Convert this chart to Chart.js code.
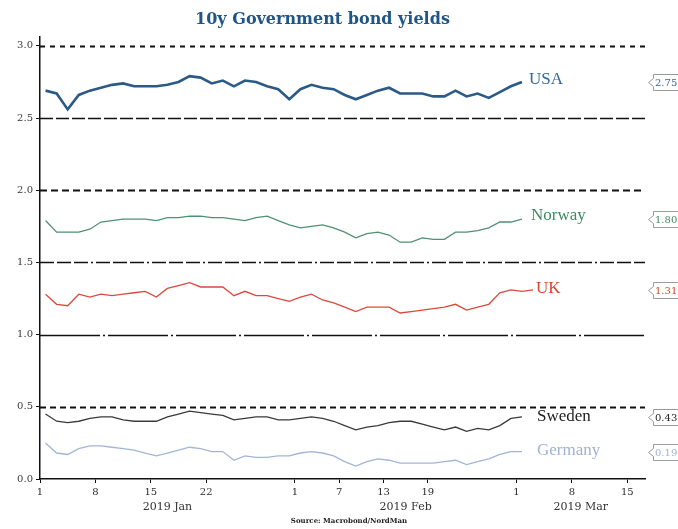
<!DOCTYPE html>
<html lang="en">
<head>
<meta charset="UTF-8">
<title>10y Government bond yields</title>
<script src="https://cdn.jsdelivr.net/npm/chart.js@4"></script>
<style>
    html, body { margin: 0; padding: 0; background: #fff; }
    #wrap { width: 678px; height: 529px; }
</style>
</head>
<body>
<div id="wrap"><canvas id="yieldChart" width="678" height="529"></canvas></div>
<script>
// one value per business day, index 0 = 1 Jan 2019, last = 1 Mar (UK runs to 4 Mar)
const usa = [2.69, 2.67, 2.56, 2.66, 2.69, 2.71, 2.73, 2.74, 2.72, 2.72,
             2.72, 2.73, 2.75, 2.79, 2.78, 2.74, 2.76, 2.72, 2.76, 2.75,
             2.72, 2.70, 2.63, 2.70, 2.73, 2.71, 2.70, 2.66, 2.63, 2.66,
             2.69, 2.71, 2.67, 2.67, 2.67, 2.65, 2.65, 2.69, 2.65, 2.67,
             2.64, 2.68, 2.72, 2.75];
const norway = [1.79, 1.71, 1.71, 1.71, 1.73, 1.78, 1.79, 1.80, 1.80, 1.80,
                1.79, 1.81, 1.81, 1.82, 1.82, 1.81, 1.81, 1.80, 1.79, 1.81,
                1.82, 1.79, 1.76, 1.74, 1.75, 1.76, 1.74, 1.71, 1.67, 1.70,
                1.71, 1.69, 1.64, 1.64, 1.67, 1.66, 1.66, 1.71, 1.71, 1.72,
                1.74, 1.78, 1.78, 1.80];
const uk = [1.28, 1.21, 1.20, 1.28, 1.26, 1.28, 1.27, 1.28, 1.29, 1.30,
            1.26, 1.32, 1.34, 1.36, 1.33, 1.33, 1.33, 1.27, 1.30, 1.27,
            1.27, 1.25, 1.23, 1.26, 1.28, 1.24, 1.22, 1.19, 1.16, 1.19,
            1.19, 1.19, 1.15, 1.16, 1.17, 1.18, 1.19, 1.21, 1.17, 1.19,
            1.21, 1.29, 1.31, 1.30, 1.31];
const sweden = [0.45, 0.40, 0.39, 0.40, 0.42, 0.43, 0.43, 0.41, 0.40, 0.40,
                0.40, 0.43, 0.45, 0.47, 0.46, 0.45, 0.44, 0.41, 0.42, 0.43,
                0.43, 0.41, 0.41, 0.42, 0.43, 0.42, 0.40, 0.37, 0.34, 0.36,
                0.37, 0.39, 0.40, 0.40, 0.38, 0.36, 0.34, 0.36, 0.33, 0.35,
                0.34, 0.37, 0.42, 0.43];
const germany = [0.25, 0.18, 0.17, 0.21, 0.23, 0.23, 0.22, 0.21, 0.20, 0.18,
                 0.16, 0.18, 0.20, 0.22, 0.21, 0.19, 0.19, 0.13, 0.16, 0.15,
                 0.15, 0.16, 0.16, 0.18, 0.19, 0.18, 0.16, 0.12, 0.09, 0.12,
                 0.14, 0.13, 0.11, 0.11, 0.11, 0.11, 0.12, 0.13, 0.10, 0.12,
                 0.14, 0.17, 0.19, 0.19];

const seriesNames = ['USA', 'Norway', 'UK', 'Sweden', 'Germany'];
const lastValues = ['2.75', '1.80', '1.31', '0.43', '0.19'];

// x ticks (business-day index) and their labels
const tickIndex = [0, 5, 10, 15, 23, 27, 31, 35, 43, 48, 53];
const tickLabels = ['1', '8', '15', '22', '1', '7', '13', '19', '1', '8', '15'];
const monthLabels = ['2019 Jan', '2019 Feb', '2019 Mar'];
const monthStart = [0, 23, 43];
const yTicks = [0, 0.5, 1.0, 1.5, 2.0, 2.5, 3.0];

const lineColors = ['#2b5a87', '#4f9172', '#da4a3c', '#3a3a3a', '#a3b5d6'];
const textColors = ['#35679b', '#3f8a62', '#d9432f', '#1e1e1e', '#9fb3d6'];
const lineWidths = [2.6, 1.3, 1.3, 1.3, 1.3];
const labelDx = [7, 9, 3, 15, 15];
const labelDy = [-2, -4, -1, 0, -1];

// horizontal reference lines, each drawn in its own dash style
const refLineStyles = [
    { value: 3.0, dash: [5, 5], width: 2 },
    { value: 2.5, dash: [13, 3], width: 1.3 },
    { value: 2.0, dash: [7, 4], width: 2 },
    { value: 1.5, dash: [14, 3, 14, 3, 14, 3, 2, 3], width: 1.4 },
    { value: 1.0, dash: [60, 3, 2, 3], width: 1.4 },
    { value: 0.5, dash: [6, 4], width: 2 }
];

const serif = "'DejaVu Serif', 'Liberation Serif', serif";

const refLines = {
    id: 'refLines',
    beforeDatasetsDraw(chart) {
        const { ctx, chartArea, scales } = chart;
        ctx.save();
        ctx.strokeStyle = '#111';
        refLineStyles.forEach(s => {
            const py = Math.round(scales.y.getPixelForValue(s.value)) + 0.5;
            ctx.lineWidth = s.width;
            ctx.setLineDash(s.dash);
            ctx.beginPath();
            ctx.moveTo(chartArea.left, py);
            ctx.lineTo(chartArea.right, py);
            ctx.stroke();
        });
        ctx.restore();
    }
};

const endLabels = {
    id: 'endLabels',
    afterDraw(chart) {
        const { ctx, chartArea, scales } = chart;
        ctx.save();
        chart.data.datasets.forEach((ds, i) => {
            const pts = chart.getDatasetMeta(i).data;
            const last = pts[pts.length - 1];
            // series name next to the end of the line
            ctx.font = "17px 'Liberation Serif', serif";
            ctx.fillStyle = textColors[i];
            ctx.textAlign = 'left';
            ctx.textBaseline = 'middle';
            ctx.fillText(seriesNames[i], last.x + labelDx[i], last.y + labelDy[i]);

            // value tag at the right edge
            const py = Math.round(last.y) + 0.5;
            const bx = 653.5;
            ctx.beginPath();
            ctx.moveTo(648.5, py);
            ctx.lineTo(bx, py - 4);
            ctx.lineTo(bx, py - 8);
            ctx.lineTo(682, py - 8);
            ctx.lineTo(682, py + 8);
            ctx.lineTo(bx, py + 8);
            ctx.lineTo(bx, py + 4);
            ctx.closePath();
            ctx.fillStyle = '#fff';
            ctx.fill();
            ctx.strokeStyle = '#9a9a9a';
            ctx.lineWidth = 1;
            ctx.stroke();
            ctx.font = '10px ' + serif;
            ctx.fillStyle = textColors[i];
            ctx.fillText(lastValues[i], 655, py + 0.5);
        });

        // month names under the day ticks
        ctx.font = '11px ' + serif;
        ctx.fillStyle = '#333';
        ctx.textAlign = 'center';
        ctx.textBaseline = 'middle';
        monthLabels.forEach((m, i) => {
            const x0 = scales.x.getPixelForValue(monthStart[i]);
            const x1 = i + 1 < monthStart.length ? scales.x.getPixelForValue(monthStart[i + 1]) : chartArea.right;
            ctx.fillText(m, (x0 + x1) / 2, 507);
        });

        ctx.font = 'bold 7px ' + serif;
        ctx.fillStyle = '#222';
        ctx.fillText('Source: Macrobond/NordMan', 349, 521);
        ctx.restore();
    }
};

const toPoints = arr => arr.map((v, i) => ({ x: i + 0.5, y: v }));
const allSeries = [usa, norway, uk, sweden, germany];

const ctx = document.getElementById('yieldChart').getContext('2d');
new Chart(ctx, {
    type: 'line',
    data: {
        datasets: allSeries.map((arr, i) => ({
            label: seriesNames[i],
            data: toPoints(arr),
            borderColor: lineColors[i],
            borderWidth: lineWidths[i],
            pointRadius: 0,
            tension: 0,
            fill: false
        }))
    },
    options: {
        responsive: false,
        animation: false,
        devicePixelRatio: 1,
        layout: { padding: { left: 0, right: 33, top: 0, bottom: 0 } },
        plugins: {
            legend: { display: false },
            tooltip: { enabled: false },
            title: {
                display: true,
                text: '10y Government bond yields',
                color: '#1f5587',
                font: { family: serif, size: 16, weight: 'bold' },
                padding: { top: 10, bottom: 8 }
            }
        },
        scales: {
            x: {
                type: 'linear',
                min: 0,
                max: 54.6,
                afterFit: s => { s.height = 50; },
                afterBuildTicks: s => { s.ticks = tickIndex.map(v => ({ value: v })); },
                ticks: {
                    autoSkip: false,
                    maxRotation: 0,
                    padding: 3,
                    color: '#2a2a2a',
                    font: { family: serif, size: 10 },
                    callback: (v, i) => tickLabels[i]
                },
                grid: { drawOnChartArea: false, drawTicks: true, tickLength: 4, color: '#111' },
                border: { display: true, color: '#111', width: 1.5 }
            },
            y: {
                min: 0,
                max: 3.06,
                afterFit: s => { s.width = 40; },
                afterBuildTicks: s => { s.ticks = yTicks.map(v => ({ value: v })); },
                ticks: {
                    padding: 3,
                    color: '#3a3a3a',
                    font: { family: serif, size: 10 },
                    callback: v => v.toFixed(1)
                },
                grid: { drawOnChartArea: false, drawTicks: true, tickLength: 4, color: '#111' },
                border: { display: true, color: '#111', width: 1.5 }
            }
        }
    },
    plugins: [refLines, endLabels]
});
</script>
</body>
</html>
